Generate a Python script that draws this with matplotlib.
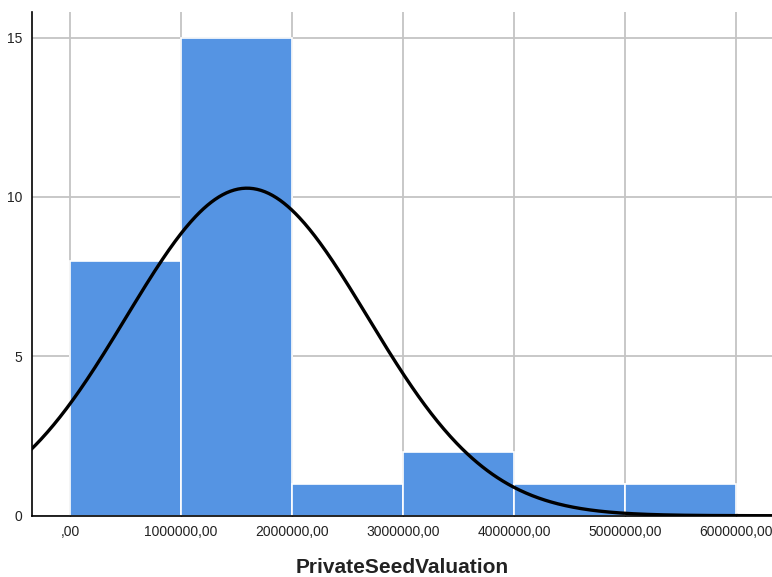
import numpy as np
import matplotlib
matplotlib.use("Agg")
import matplotlib.pyplot as plt
from matplotlib.ticker import FuncFormatter

# Histogram of private seed valuations (bin width 1,000,000)
bin_edges = [0, 1_000_000, 2_000_000, 3_000_000, 4_000_000, 5_000_000, 6_000_000]
counts = [8, 15, 1, 2, 1, 1]

# Normal curve overlay parameters
curve_mean = 1_593_000
curve_std = 1_087_000

x_ticks = [0, 1_000_000, 2_000_000, 3_000_000, 4_000_000, 5_000_000, 6_000_000]
y_ticks = [0, 5, 10, 15]

BAR_COLOR = "#5594E3"
GRID_COLOR = "#C4C4C4"

plt.rcParams["font.family"] = ["Liberation Sans", "DejaVu Sans"]

fig = plt.figure(figsize=(7.72, 5.77), dpi=100)
ax = fig.add_axes([0.0415, 0.1062, 0.9585, 0.8728])

widths = np.diff(bin_edges)
ax.bar(bin_edges[:-1], counts, width=widths, align="edge",
       color=BAR_COLOR, edgecolor="white", linewidth=1.2, zorder=2)

# Normal density scaled to counts
n_total = sum(counts)
bin_w = bin_edges[1] - bin_edges[0]
xs = np.linspace(-400_000, 6_500_000, 600)
ys = n_total * bin_w / (curve_std * np.sqrt(2 * np.pi)) * np.exp(-0.5 * ((xs - curve_mean) / curve_std) ** 2)
ax.plot(xs, ys, color="black", linewidth=2.4, zorder=3, solid_capstyle="round")

ax.set_xlim(-342_000, 6_320_000)
ax.set_ylim(0, 15.8)
ax.set_xticks(x_ticks)
ax.set_yticks(y_ticks)


def spss_fmt(v, pos):
    if v == 0:
        return ",00"
    return f"{int(round(v))},00"


ax.xaxis.set_major_formatter(FuncFormatter(spss_fmt))
ax.grid(True, color=GRID_COLOR, linewidth=1.3, zorder=0)
ax.set_axisbelow(True)

for side in ("top", "right"):
    ax.spines[side].set_visible(False)
for side in ("left", "bottom"):
    ax.spines[side].set_color("black")
    ax.spines[side].set_linewidth(1.2)
    ax.spines[side].set_zorder(4)

ax.tick_params(axis="x", length=2, width=1, direction="in", pad=7, labelsize=10, colors="#222222")
ax.tick_params(axis="y", length=0, pad=7, labelsize=10, colors="#222222")

ax.set_xlabel("PrivateSeedValuation", fontsize=15, fontweight="bold", color="#222222", labelpad=13)

fig.savefig("out.png", dpi=100)
